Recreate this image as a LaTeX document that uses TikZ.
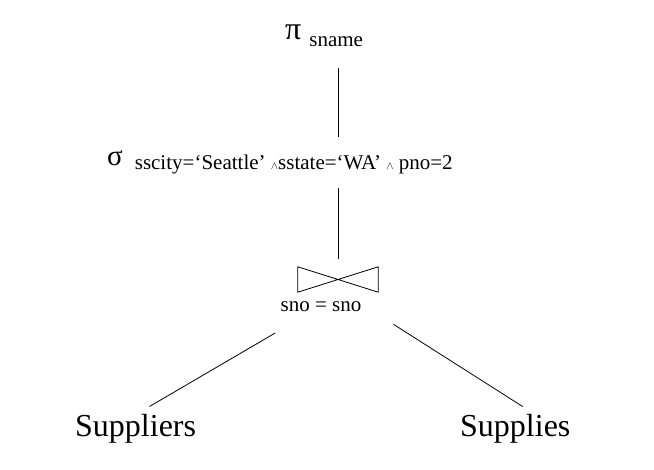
\documentclass[tikz,border=0pt]{standalone}
\usepackage{fontspec}
\setmainfont{Liberation Serif}
\usetikzlibrary{positioning}

\newcommand{\subtxt}[1]{{\fontsize{21}{21}\selectfont #1}}
\newcommand{\andop}{{\fontsize{11}{11}\selectfont$\wedge$}}

\begin{document}
\begin{tikzpicture}[x=1pt, y=-1pt,
        op/.style={inner sep=0pt, anchor=base west},
        rel/.style={inner sep=0pt, anchor=base west, font=\fontsize{32}{32}\selectfont},
        joinop/.style={minimum width=80pt, minimum height=25pt, inner sep=0pt},
        line/.style={-, line width=0.8pt}
    ]
        \useasboundingbox (0,0) rectangle (654,470);

        % Projection and selection
        \node[op, font=\fontsize{32}{32}\selectfont] (proj) at (285,40) {π\hspace{8pt}\raisebox{-7pt}{\subtxt{sname}}};
        \node[op, font=\fontsize{29}{29}\selectfont] (sel) at (107,166) {σ\hspace{12pt}\raisebox{-4pt}{\subtxt{sscity=‘Seattle’ \andop sstate=‘WA’ \andop{} pno=2}}};

        % Join
        \node[joinop] (join) at (338,279.5) {};
        \draw[line] (join.north west) -- (join.south east) -- (join.north east) -- (join.south west) -- cycle;
        \node[inner sep=0pt, anchor=base, font=\fontsize{21}{21}\selectfont] (cond) at (321,311.5) {sno = sno};

        % Relations
        \node[rel] (suppliers) at (75,437) {Suppliers};
        \node[rel] (supplies) at (460,437) {Supplies};

        \draw[line, shorten <=21pt, shorten >=14pt] (proj.south -| join.north) -- (sel.north -| join.north);
        \draw[line, shorten <=13pt, shorten >=8pt] (sel.south -| join.north) -- (join.north);
        \draw[line, shorten <=81pt, shorten >=16pt] ([xshift=7pt]join.south) -- (suppliers.north);
        \draw[line, shorten <=60pt, shorten >=15pt] ([xshift=5pt]join.south) -- ([xshift=20pt]supplies.north);

    \end{tikzpicture}
\end{document}
